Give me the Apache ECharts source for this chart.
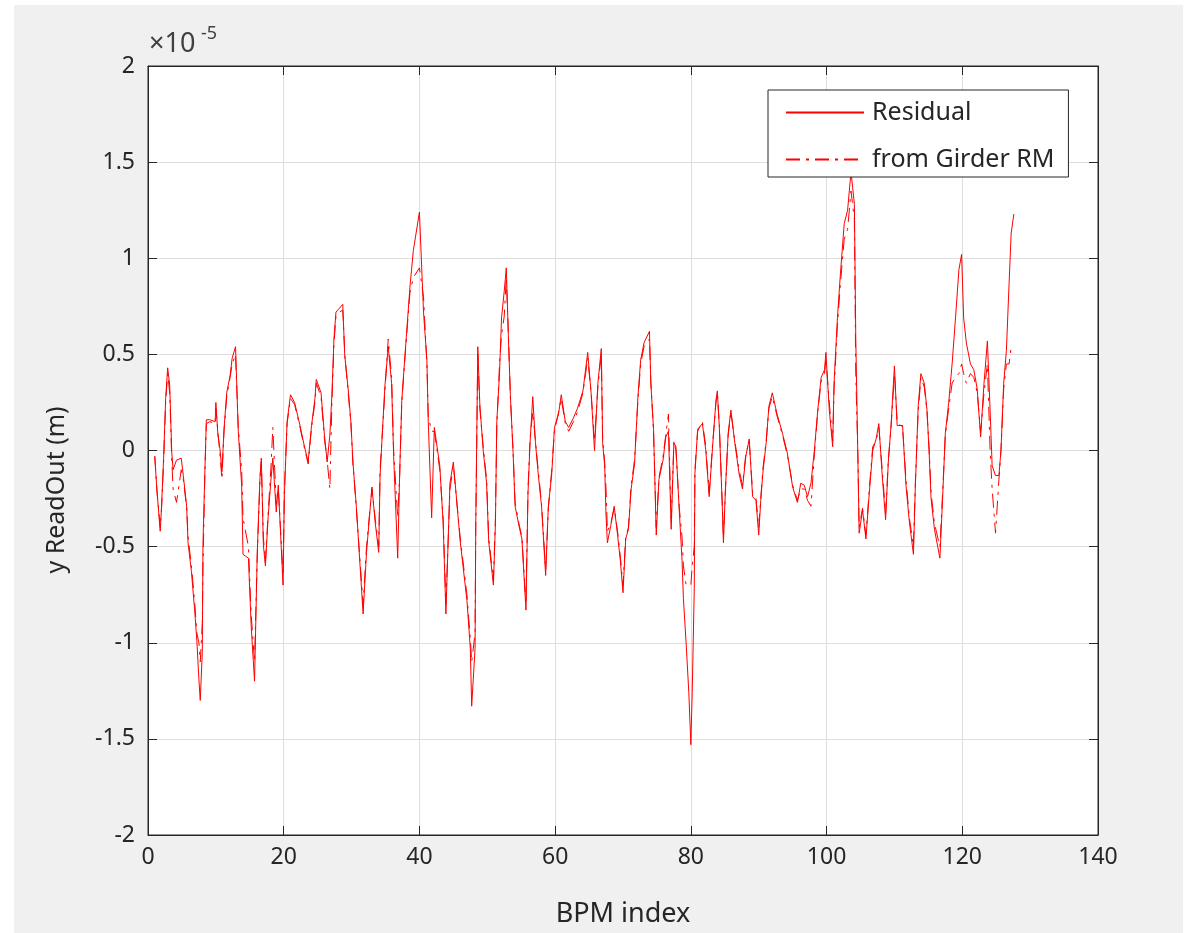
<!DOCTYPE html>
<html>
<head>
<meta charset="utf-8">
<title>BPM residual</title>
<script src="https://cdn.jsdelivr.net/npm/echarts@6/dist/echarts.min.js"></script>
<style>
  html, body { margin: 0; padding: 0; background: #fff; }
  .figure-bg { position: absolute; left: 14px; top: 5px; width: 1169px; height: 928px; background: #f0f0f0; }
  #chart { position: absolute; left: 0; top: 0; width: 1192px; height: 933px; }
</style>
</head>
<body>
<div class="figure-bg"></div>
<div id="chart"></div>
<script>
// values in units of 1e-5 m
const bpmX = [
  1.0, 1.3, 1.8, 2.0, 2.3, 2.6, 2.9, 3.2, 3.5, 3.7, 4.2, 4.9, 5.2, 5.7, 5.9, 6.4, 6.9, 7.2, 7.5, 7.7,
  8.0, 8.1, 8.4, 8.6, 9.1, 9.9, 10.0, 10.3, 10.6, 10.9, 11.2, 11.6, 12.1, 12.4, 12.9, 13.3, 13.8, 14.0, 14.8, 15.2,
  15.7, 16.1, 16.5, 16.7, 17.0, 17.3, 17.7, 18.1, 18.4, 18.9, 19.2, 19.6, 19.9, 20.1, 20.5, 21.0, 21.6, 22.4, 23.0, 23.6,
  24.1, 24.6, 24.8, 25.5, 26.0, 26.4, 26.8, 27.1, 27.4, 27.7, 28.2, 28.7, 29.0, 29.5, 29.9, 30.2, 30.7, 31.0, 31.7, 32.2,
  33.0, 33.5, 34.0, 34.2, 34.9, 35.4, 35.9, 36.2, 36.8, 37.1, 37.4, 37.9, 38.6, 39.1, 40.0, 40.6, 41.1, 41.3, 41.8, 42.2,
  43.0, 43.5, 43.9, 44.5, 45.0, 46.0, 47.0, 47.5, 47.7, 48.2, 48.3, 48.6, 48.9, 49.4, 49.9, 50.2, 50.9, 51.2, 51.4, 51.8,
  52.1, 52.5, 52.8, 53.1, 53.4, 53.8, 54.1, 54.6, 55.1, 55.7, 56.0, 56.3, 56.7, 57.1, 57.5, 58.0, 58.6, 59.0, 59.5, 59.9,
  60.5, 60.9, 61.5, 62.0, 62.7, 63.3, 64.1, 64.8, 65.3, 65.8, 66.3, 66.8, 67.0, 67.3, 67.5, 67.7, 68.2, 68.7, 69.2, 69.6,
  70.0, 70.4, 70.8, 71.2, 71.7, 72.2, 72.6, 73.1, 73.9, 74.1, 74.5, 74.9, 75.3, 75.9, 76.3, 76.7, 77.1, 77.5, 77.8, 78.3,
  78.7, 78.9, 79.3, 79.7, 80.0, 80.2, 80.5, 80.6, 81.0, 81.7, 82.2, 82.7, 83.2, 83.7, 83.9, 84.2, 84.6, 84.8, 85.1, 85.5,
  85.9, 86.4, 87.1, 87.6, 88.1, 88.6, 89.1, 89.6, 90.0, 90.3, 90.6, 91.1, 91.5, 92.0, 92.7, 93.5, 94.2, 95.0, 95.7, 96.2,
  96.7, 97.2, 97.7, 98.2, 98.7, 99.2, 99.7, 99.9, 100.4, 100.9, 101.1, 101.6, 102.0, 102.6, 103.1, 103.6, 104.1, 104.3, 104.6, 104.8,
  105.3, 105.8, 106.3, 106.8, 107.3, 107.7, 108.2, 108.7, 109.1, 109.5, 110.0, 110.4, 111.2, 111.7, 112.2, 112.8, 113.1, 113.5, 113.9, 114.4,
  114.8, 115.1, 115.4, 115.9, 116.7, 117.1, 117.5, 118.0, 118.5, 119.0, 119.5, 119.9, 120.2, 120.6, 121.2, 121.7, 122.2, 122.7, 123.2, 123.7,
  124.1, 124.4, 124.9, 125.4, 125.7, 126.1, 126.5, 126.9, 127.2, 127.6
];

const residual = [
  -0.03, -0.2, -0.42, -0.29, -0.04, 0.27, 0.43, 0.34, -0.01, -0.1, -0.05, -0.04, -0.13, -0.29, -0.48, -0.63, -0.84, -0.99, -1.19, -1.3,
  -1.05, -0.49, -0.08, 0.16, 0.16, 0.15, 0.25, 0.08, 0.01, -0.11, 0.11, 0.3, 0.39, 0.48, 0.54, 0.1, -0.18, -0.54, -0.56, -0.91,
  -1.2, -0.53, -0.14, -0.04, -0.49, -0.6, -0.35, -0.16, -0.04, -0.32, -0.18, -0.48, -0.7, -0.23, 0.15, 0.29, 0.25, 0.13, 0.03, -0.06,
  0.13, 0.27, 0.37, 0.3, 0.08, -0.06, 0.08, 0.29, 0.58, 0.72, 0.74, 0.76, 0.49, 0.32, 0.15, -0.06, -0.29, -0.46, -0.85, -0.53,
  -0.19, -0.38, -0.53, -0.13, 0.33, 0.54, 0.35, -0.03, -0.56, -0.1, 0.26, 0.51, 0.85, 1.04, 1.24, 0.72, 0.47, 0.15, -0.35, 0.12,
  -0.08, -0.38, -0.85, -0.17, -0.06, -0.47, -0.78, -1.03, -1.33, -1.03, -0.38, 0.54, 0.24, 0.0, -0.17, -0.47, -0.7, -0.38, 0.15, 0.4,
  0.69, 0.83, 0.95, 0.6, 0.29, -0.01, -0.29, -0.38, -0.46, -0.83, -0.22, 0.04, 0.28, 0.04, -0.12, -0.29, -0.65, -0.29, -0.12, 0.12,
  0.19, 0.29, 0.15, 0.12, 0.17, 0.22, 0.31, 0.51, 0.3, 0.0, 0.35, 0.53, 0.04, -0.08, -0.34, -0.48, -0.39, -0.29, -0.44, -0.57,
  -0.74, -0.46, -0.41, -0.2, -0.07, 0.28, 0.47, 0.56, 0.62, 0.35, 0.11, -0.44, -0.15, -0.05, 0.07, 0.1, -0.41, 0.04, 0.02, -0.32,
  -0.57, -0.77, -1.0, -1.26, -1.53, -1.26, -0.72, -0.12, 0.11, 0.14, 0.0, -0.24, 0.02, 0.26, 0.31, 0.12, -0.26, -0.48, -0.2, 0.09,
  0.21, 0.06, -0.12, -0.2, -0.03, 0.06, -0.24, -0.26, -0.44, -0.26, -0.12, 0.04, 0.23, 0.3, 0.19, 0.09, -0.01, -0.19, -0.27, -0.17,
  -0.18, -0.24, -0.17, 0.0, 0.21, 0.38, 0.42, 0.51, 0.21, 0.02, 0.35, 0.69, 0.9, 1.18, 1.25, 1.45, 1.28, 0.59, -0.01, -0.43,
  -0.31, -0.46, -0.22, 0.0, 0.06, 0.14, -0.13, -0.36, -0.06, 0.13, 0.44, 0.13, 0.13, -0.18, -0.37, -0.54, -0.17, 0.23, 0.4, 0.35,
  0.21, 0.0, -0.25, -0.41, -0.56, -0.25, 0.09, 0.25, 0.45, 0.69, 0.94, 1.02, 0.69, 0.56, 0.45, 0.42, 0.32, 0.07, 0.35, 0.57,
  0.21, -0.08, -0.13, -0.13, 0.0, 0.35, 0.52, 0.87, 1.13, 1.23
];

const girderRM = [
  -0.03, -0.2, -0.4, -0.3, -0.06, 0.25, 0.4, 0.3, -0.05, -0.2, -0.27, -0.1, -0.15, -0.3, -0.45, -0.6, -0.8, -0.95, -1.0, -1.1,
  -0.9, -0.6, -0.1, 0.14, 0.15, 0.14, 0.22, 0.1, -0.02, -0.15, 0.1, 0.28, 0.38, 0.45, 0.5, 0.12, -0.1, -0.35, -0.5, -0.85,
  -1.1, -0.55, -0.15, -0.05, -0.45, -0.58, -0.33, -0.1, 0.12, -0.28, -0.2, -0.45, -0.65, -0.2, 0.14, 0.27, 0.24, 0.12, 0.02, -0.07,
  0.12, 0.25, 0.35, 0.28, 0.06, -0.05, -0.2, 0.25, 0.55, 0.7, 0.72, 0.73, 0.5, 0.3, 0.14, -0.07, -0.3, -0.45, -0.8, -0.5,
  -0.2, -0.36, -0.5, -0.1, 0.3, 0.58, 0.38, 0.0, -0.35, -0.12, 0.25, 0.5, 0.82, 0.9, 0.95, 0.8, 0.45, 0.18, 0.1, 0.1,
  -0.1, -0.36, -0.8, -0.2, -0.08, -0.45, -0.75, -0.98, -1.1, -0.95, -0.4, 0.5, 0.22, 0.02, -0.15, -0.45, -0.68, -0.35, 0.12, 0.45,
  0.6, 0.7, 0.9, 0.62, 0.28, 0.0, -0.27, -0.37, -0.45, -0.8, -0.2, 0.06, 0.2, 0.05, -0.1, -0.28, -0.62, -0.3, -0.1, 0.1,
  0.2, 0.27, 0.14, 0.1, 0.15, 0.2, 0.3, 0.48, 0.3, 0.05, 0.33, 0.5, 0.06, -0.06, -0.2, -0.42, -0.38, -0.3, -0.42, -0.55,
  -0.7, -0.45, -0.4, -0.18, -0.05, 0.26, 0.45, 0.54, 0.58, 0.36, 0.1, -0.4, -0.14, -0.03, 0.08, 0.19, -0.38, 0.05, 0.0, -0.3,
  -0.45, -0.6, -0.7, -0.7, -0.7, -0.6, -0.5, -0.1, 0.1, 0.15, 0.02, -0.22, 0.03, 0.25, 0.3, 0.13, -0.25, -0.45, -0.2, 0.08,
  0.2, 0.07, -0.1, -0.18, -0.02, 0.05, -0.22, -0.25, -0.4, -0.25, -0.1, 0.05, 0.22, 0.28, 0.18, 0.08, -0.02, -0.18, -0.26, -0.2,
  -0.2, -0.26, -0.29, -0.02, 0.2, 0.36, 0.4, 0.48, 0.25, 0.05, 0.32, 0.65, 0.85, 1.1, 1.15, 1.35, 1.2, 0.4, 0.0, -0.4,
  -0.3, -0.44, -0.2, 0.02, 0.05, 0.12, -0.1, -0.33, -0.05, 0.12, 0.4, 0.15, 0.12, -0.15, -0.35, -0.5, -0.15, 0.2, 0.38, 0.33,
  0.2, 0.02, -0.22, -0.38, -0.5, -0.22, 0.08, 0.22, 0.35, 0.38, 0.4, 0.45, 0.4, 0.35, 0.4, 0.38, 0.3, 0.1, 0.3, 0.45,
  0.0, -0.2, -0.43, -0.15, 0.0, 0.32, 0.45, 0.45, 0.54, null
];

const xTicks = [0, 20, 40, 60, 80, 100, 120, 140];
const yTicks = [-2, -1.5, -1, -0.5, 0, 0.5, 1, 1.5, 2];

const axisColor = '#262626';
const gridColor = '#dedede';
const font = 'Noto Sans';

const chart = echarts.init(document.getElementById('chart'));

const toPairs = (ys) => bpmX.map((x, i) => [x, ys[i]]);

const baseX = {
  type: 'value',
  min: xTicks[0],
  max: xTicks[xTicks.length - 1],
  interval: xTicks[1] - xTicks[0]
};
const baseY = {
  type: 'value',
  min: yTicks[0],
  max: yTicks[yTicks.length - 1],
  interval: yTicks[1] - yTicks[0]
};

const frameLine = { show: true, onZero: false, lineStyle: { color: axisColor } };
const frameTick = { show: true, inside: true, length: 9, lineStyle: { color: axisColor } };

const option = {
  animation: false,
  textStyle: { fontFamily: font },
  graphic: [
    { type: 'text', left: 149, top: 31, style: { text: '×10', fontSize: 27, fill: '#404040', fontFamily: font } },
    { type: 'text', left: 201, top: 25, style: { text: '-5', fontSize: 18, fill: '#404040', fontFamily: font } },
    {
      type: 'text', x: 57, y: 490, rotation: Math.PI / 2,
      style: { text: 'y ReadOut (m)', fontSize: 25, fill: axisColor, fontFamily: font, align: 'center', verticalAlign: 'middle' }
    }
  ],
  grid: {
    left: 148, top: 66, width: 950, height: 771,
    show: true, backgroundColor: '#ffffff', borderColor: axisColor, borderWidth: 1
  },
  legend: {
    orient: 'vertical',
    left: 768, top: 90,
    padding: [9, 14, 4, 17],
    itemGap: 20,
    itemWidth: 78,
    itemHeight: 14,
    backgroundColor: '#ffffff',
    borderColor: axisColor,
    borderWidth: 1,
    itemStyle: { opacity: 0 },
    textStyle: { fontSize: 25, lineHeight: 27, color: axisColor, fontFamily: font, padding: [0, 0, 0, 3] },
    data: ['Residual', 'from Girder RM']
  },
  xAxis: [
    Object.assign({}, baseX, {
      position: 'bottom',
      name: 'BPM index',
      nameLocation: 'middle',
      nameGap: 66,
      nameTextStyle: { fontSize: 27, color: axisColor, fontFamily: font },
      axisLine: frameLine,
      axisTick: frameTick,
      axisLabel: { fontSize: 23, color: axisColor, margin: 11, fontFamily: font },
      splitLine: { show: true, lineStyle: { color: gridColor } }
    }),
    Object.assign({}, baseX, {
      position: 'top',
      axisLine: frameLine,
      axisTick: frameTick,
      axisLabel: { show: false },
      splitLine: { show: false }
    })
  ],
  yAxis: [
    Object.assign({}, baseY, {
      position: 'left',
      axisLine: frameLine,
      axisTick: frameTick,
      axisLabel: { fontSize: 23, color: axisColor, margin: 13, fontFamily: font },
      splitLine: { show: true, lineStyle: { color: gridColor } }
    }),
    Object.assign({}, baseY, {
      position: 'right',
      axisLine: frameLine,
      axisTick: frameTick,
      axisLabel: { show: false },
      splitLine: { show: false }
    })
  ],
  series: [
    {
      name: 'Residual',
      type: 'line',
      data: toPairs(residual),
      symbol: 'none',
      lineStyle: { color: '#ff0000', width: 1 },
      itemStyle: { color: '#ff0000' }
    },
    {
      name: 'from Girder RM',
      type: 'line',
      data: toPairs(girderRM),
      symbol: 'none',
      connectNulls: false,
      lineStyle: { color: '#ff0000', width: 1, type: [14, 6, 3, 6] },
      itemStyle: { color: '#ff0000' }
    }
  ]
};

chart.setOption(option);
window.addEventListener('resize', () => chart.resize());
</script>
</body>
</html>
